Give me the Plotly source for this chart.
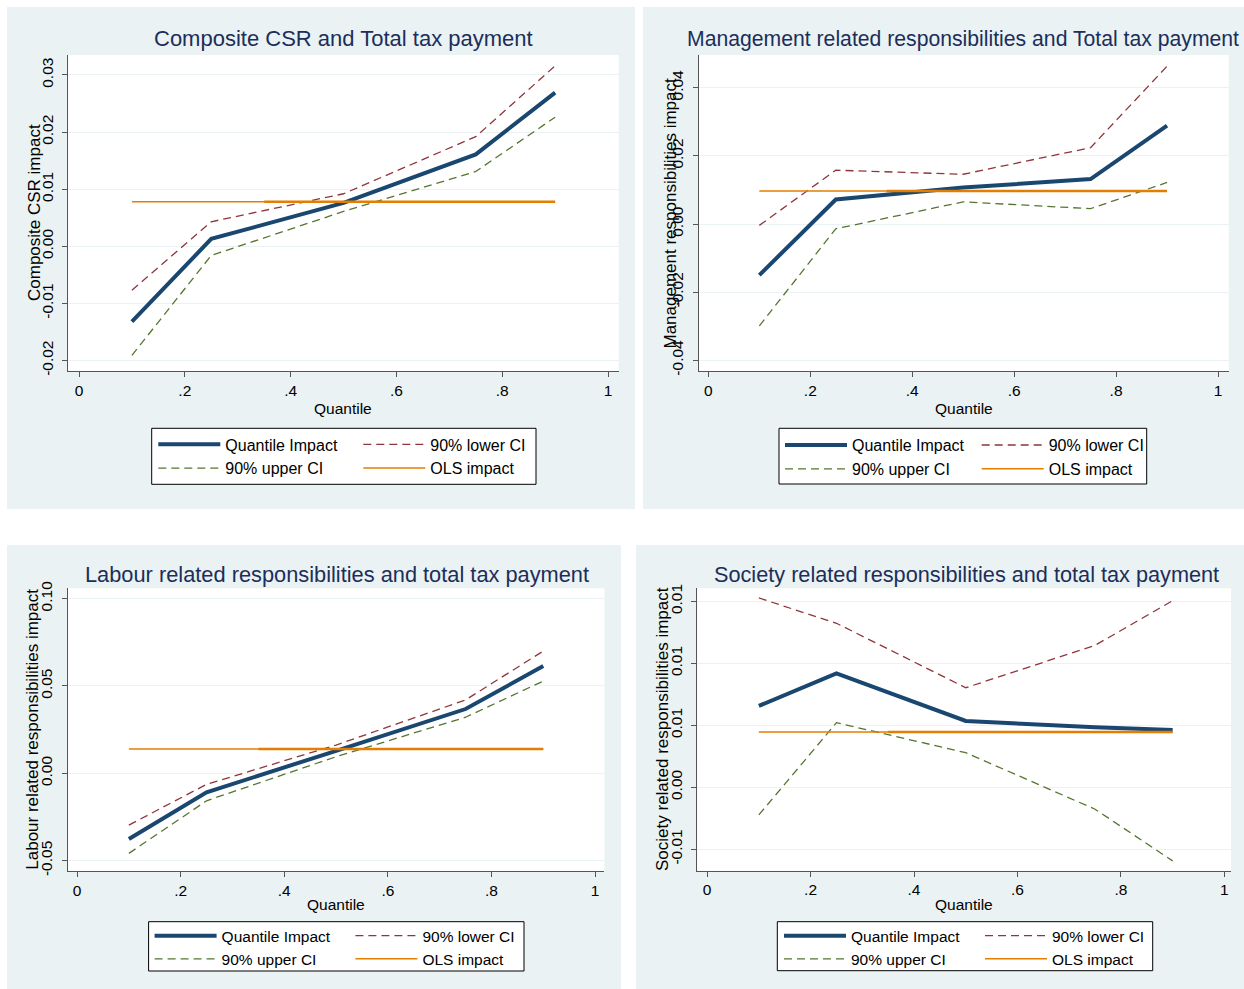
import plotly.graph_objects as go

W, H = 1244, 989
FONT = "Liberation Sans, Arial, sans-serif"

# ---------------- data ----------------
quantiles = [0.1, 0.25, 0.5, 0.75, 0.9]
ols_span = [0.1, 0.9]
ols_overlap_span = [0.35, 0.9]

csr_quantile = [-0.0132, 0.0013, 0.0076, 0.0161, 0.0269]
csr_lower = [-0.0077, 0.0043, 0.0092, 0.0192, 0.0316]
csr_upper = [-0.0191, -0.0016, 0.0061, 0.0131, 0.0226]
csr_ols = 0.0078

mgmt_quantile = [-0.0150, 0.0072, 0.0107, 0.0132, 0.0289]
mgmt_lower = [-0.0004, 0.0158, 0.0146, 0.0224, 0.0463]
mgmt_upper = [-0.0299, -0.0014, 0.0065, 0.0045, 0.0122]
mgmt_ols = 0.0097

labour_quantile = [-0.0376, -0.0109, 0.0129, 0.0368, 0.0614]
labour_lower = [-0.0296, -0.0063, 0.0162, 0.0420, 0.0700]
labour_upper = [-0.0458, -0.0157, 0.0095, 0.0321, 0.0528]
labour_ols = 0.0139

society_quantile = [0.00656, 0.00919, 0.00535, 0.00484, 0.00462]
society_lower = [0.01527, 0.01323, 0.00803, 0.01145, 0.01505]
society_upper = [-0.00223, 0.00521, 0.00279, -0.00177, -0.00594]
society_ols = 0.00446

x_tick_vals = [0, 0.2, 0.4, 0.6, 0.8, 1]
x_tick_text = ["0", ".2", ".4", ".6", ".8", "1"]

csr_ytick_vals = [-0.02, -0.01, 0.0, 0.01, 0.02, 0.03]
csr_ytick_text = ["-0.02", "-0.01", "0.00", "0.01", "0.02", "0.03"]
mgmt_ytick_vals = [-0.04, -0.02, 0.0, 0.02, 0.04]
mgmt_ytick_text = ["-0.04", "-0.02", "0.00", "0.02", "0.04"]
labour_ytick_vals = [-0.05, 0.0, 0.05, 0.10]
labour_ytick_text = ["-0.05", "0.00", "0.05", "0.10"]
society_ytick_vals = [-0.005, 0.0, 0.005, 0.01, 0.015]
society_ytick_text = ["-0.01", "0.00", "0.01", "0.01", "0.01"]

titles = [
    "Composite CSR and Total tax payment",
    "Management related responsibilities and Total tax payment",
    "Labour related responsibilities and total tax payment",
    "Society related responsibilities and total tax payment",
]
y_titles = [
    "Composite CSR impact",
    "Management responsibilities impact",
    "Labour related responsibilities impact",
    "Society related responsibilities impact",
]
x_title = "Quantile"
series_names = ["Quantile Impact", "90% lower CI", "90% upper CI", "OLS impact"]

series = [
    (csr_quantile, csr_lower, csr_upper, csr_ols, csr_ytick_vals, csr_ytick_text),
    (mgmt_quantile, mgmt_lower, mgmt_upper, mgmt_ols, mgmt_ytick_vals, mgmt_ytick_text),
    (labour_quantile, labour_lower, labour_upper, labour_ols, labour_ytick_vals, labour_ytick_text),
    (society_quantile, society_lower, society_upper, society_ols, society_ytick_vals, society_ytick_text),
]

# ---------------- layout geometry (pixels) ----------------
panels = [
    dict(bg=(7, 7, 635, 509), plot=(68, 55, 618.7, 371), xr=(-0.0208, 1.0202), yr=(-0.02184, 0.0335),
         title=(343.5, 38.5), tfs=22, ytitle=(34, 213), xtitle=(343.4, 408), legbox=(151.7, 428.3, 536, 484.3),
         legA=(158.3, 444.3), legB=(363.3, 444.3), fs=16),
    dict(bg=(643, 7, 1244, 509), plot=(698.6, 55, 1228.8, 371), xr=(-0.0192, 1.0212), yr=(-0.04314, 0.0496),
         title=(963, 38.5), tfs=21.2, ytitle=(669.5, 213), xtitle=(963.7, 408), legbox=(779, 428.3, 1146.7, 484),
         legA=(785, 445), legB=(981.7, 445), fs=16),
    dict(bg=(7, 545, 621, 989), plot=(67.5, 588.3, 604.4, 871), xr=(-0.0185, 1.018), yr=(-0.0559, 0.1059),
         title=(336.5, 574), tfs=21.8, ytitle=(33, 729.7), xtitle=(336, 904), legbox=(148.6, 921.7, 524, 971),
         legA=(154.6, 936), legB=(355.4, 936), fs=15.5),
    dict(bg=(636, 545, 1244, 989), plot=(697.3, 588.3, 1231, 870.7), xr=(-0.019, 1.0128), yr=(-0.00673, 0.01605),
         title=(966, 574), tfs=21.7, ytitle=(662, 729), xtitle=(964, 904), legbox=(777.3, 921.7, 1152.7, 970.7),
         legA=(784, 936), legB=(985, 936), fs=15.5),
]

def px(x):
    return x / W

def py(y):
    return 1 - y / H

NAVY = "#1A476F"
MAROON = "#90353B"
GREEN = "#55752F"
ORANGE = "#E37E00"
BG = "#EAF2F3"
AXIS = "#555555"
TITLE = "#1C2E5A"

fig = go.Figure()
layout = dict(
    width=W, height=H, margin=dict(l=0, r=0, t=0, b=0, pad=0, autoexpand=False),
    paper_bgcolor="white", plot_bgcolor="white",
    font=dict(family=FONT, color="black"),
    shapes=[], annotations=[],
)

for i, (p, s) in enumerate(zip(panels, series)):
    n = i + 1
    xa = "x" if n == 1 else f"x{n}"
    ya = "y" if n == 1 else f"y{n}"
    la = f"legend{2 * i + 1}" if i > 0 else "legend"
    lb = f"legend{2 * i + 2}"
    qi, lo, up, ols, ytv, ytt = s

    fig.add_trace(go.Scatter(x=quantiles, y=lo, mode="lines", name=series_names[1],
                             line=dict(color=MAROON, width=1.3, dash="8px,5px"),
                             xaxis=xa, yaxis=ya, legend=lb, legendrank=1, hoverinfo="skip"))
    fig.add_trace(go.Scatter(x=quantiles, y=up, mode="lines", name=series_names[2],
                             line=dict(color=GREEN, width=1.3, dash="8px,5px"),
                             xaxis=xa, yaxis=ya, legend=la, legendrank=2, hoverinfo="skip"))
    fig.add_trace(go.Scatter(x=quantiles, y=qi, mode="lines", name=series_names[0],
                             line=dict(color=NAVY, width=4),
                             xaxis=xa, yaxis=ya, legend=la, legendrank=1, hoverinfo="skip"))
    fig.add_trace(go.Scatter(x=ols_span, y=[ols] * len(ols_span), mode="lines", name=series_names[3],
                             line=dict(color=ORANGE, width=1.5),
                             xaxis=xa, yaxis=ya, legend=lb, legendrank=2, hoverinfo="skip"))
    fig.add_trace(go.Scatter(x=ols_overlap_span, y=[ols] * len(ols_overlap_span), mode="lines",
                             line=dict(color=ORANGE, width=2.6), showlegend=False,
                             xaxis=xa, yaxis=ya, hoverinfo="skip"))

    x0, y0, x1, y1 = p["plot"]
    axis_common = dict(showline=True, linecolor=AXIS, linewidth=1, ticks="outside", ticklen=5,
                       tickcolor=AXIS, zeroline=False, fixedrange=True, automargin=False,
                       tickfont=dict(size=15.5, color="black", family=FONT))
    layout["xaxis" + ("" if n == 1 else str(n))] = dict(
        domain=[px(x0), px(x1)], range=list(p["xr"]), anchor=ya,
        tickvals=x_tick_vals, ticktext=x_tick_text, showgrid=False, **axis_common)
    layout["yaxis" + ("" if n == 1 else str(n))] = dict(
        domain=[py(y1), py(y0)], range=list(p["yr"]), anchor=xa,
        tickvals=ytv, ticktext=ytt, tickangle=-90, showgrid=True, gridcolor=BG, gridwidth=1,
        ticklabelstandoff=3, **axis_common)

    bx0, by0, bx1, by1 = p["bg"]
    layout["shapes"].append(dict(type="rect", xref="paper", yref="paper", layer="below",
                                 x0=px(bx0), x1=px(bx1), y0=py(by1), y1=py(by0),
                                 fillcolor=BG, line=dict(width=0)))
    layout["shapes"].append(dict(type="rect", xref=f"{xa} domain", yref=f"{ya} domain", layer="below",
                                 x0=0, x1=1, y0=0, y1=1, fillcolor="white", line=dict(width=0)))
    lx0, ly0, lx1, ly1 = p["legbox"]
    layout["shapes"].append(dict(type="rect", xref="paper", yref="paper", layer="below",
                                 x0=px(lx0), x1=px(lx1), y0=py(ly1), y1=py(ly0),
                                 fillcolor="white", line=dict(color="black", width=1)))

    fs = p["fs"]
    for key, (sx, sy) in ((la, p["legA"]), (lb, p["legB"])):
        layout[key] = dict(x=px(sx - 5), y=py(sy - 16.9), xanchor="left", yanchor="top",
                           orientation="v", bgcolor="rgba(0,0,0,0)", borderwidth=0,
                           font=dict(size=fs, color="black", family=FONT), itemwidth=62,
                           tracegroupgap=0, itemclick=False, itemdoubleclick=False)

    tx, ty = p["title"]
    layout["annotations"].append(dict(text=titles[i], x=px(tx), y=py(ty), xref="paper", yref="paper",
                                      xanchor="center", yanchor="middle", showarrow=False,
                                      font=dict(size=p["tfs"], color=TITLE, family=FONT)))
    yx, yy = p["ytitle"]
    layout["annotations"].append(dict(text=y_titles[i], x=px(yx), y=py(yy), xref="paper", yref="paper",
                                      xanchor="center", yanchor="middle", showarrow=False, textangle=-90,
                                      font=dict(size=17, color="black", family=FONT)))
    qx, qy = p["xtitle"]
    layout["annotations"].append(dict(text=x_title, x=px(qx), y=py(qy), xref="paper", yref="paper",
                                      xanchor="center", yanchor="middle", showarrow=False,
                                      font=dict(size=15.5, color="black", family=FONT)))

fig.update_layout(**layout)
fig.write_html(
    "out.html", config={"displayModeBar": False},
    post_script=(
        "document.documentElement.style.margin='0px';"
        "document.body.style.margin='0px';document.body.style.padding='0px';"
        "document.body.style.overflow='hidden';"
        "var gd=document.getElementById('{plot_id}');"
        "gd.style.position='fixed';gd.style.left='0px';gd.style.top='0px';"
    ),
)
